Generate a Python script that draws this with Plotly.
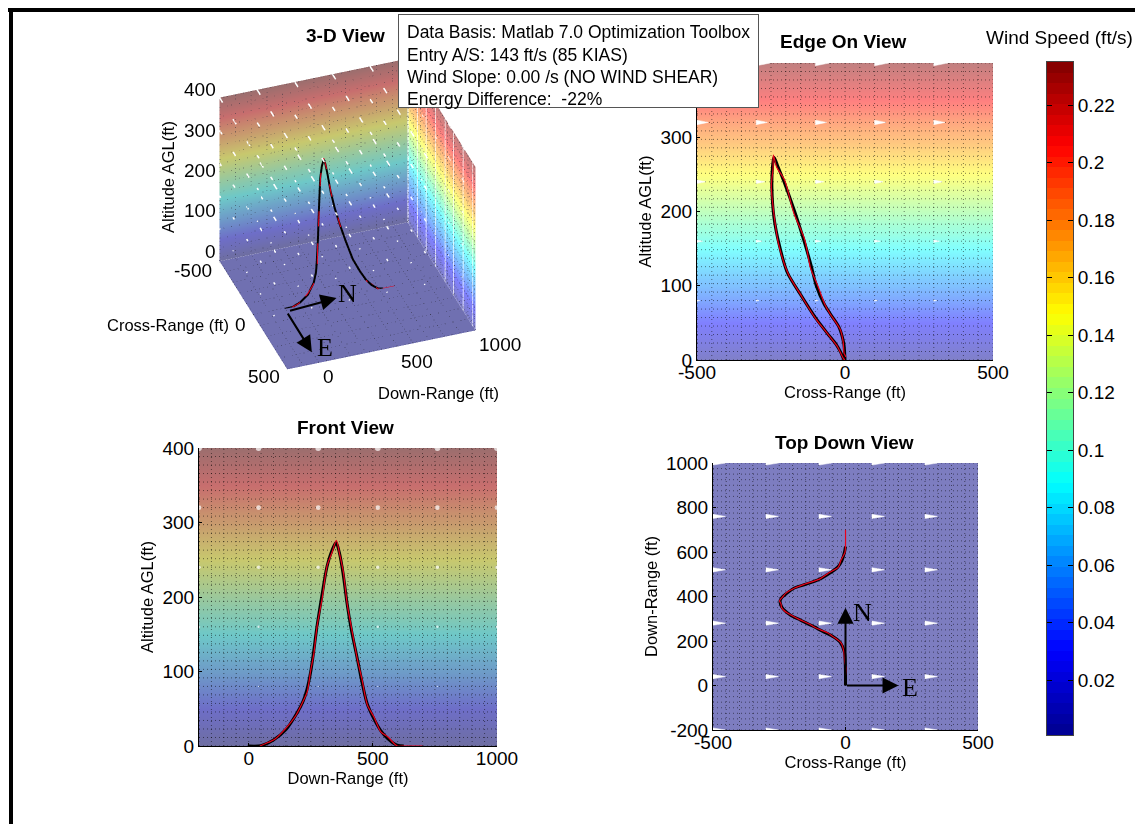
import numpy as np
import plotly.graph_objects as go

W, H = 1135, 824

# ---- data ----
wind_altitudes = [0, 10, 20, 30, 40, 50, 60, 70, 80, 90, 100, 110, 120, 130, 140, 150, 160, 170, 180, 190, 200,
                  210, 220, 230, 240, 250, 260, 270, 280, 290, 300, 310, 320, 330, 340, 350, 360, 370, 380, 390, 400]
wind_speeds = [0.001, 0.007, 0.013, 0.019, 0.024, 0.030, 0.036, 0.042, 0.048, 0.054, 0.060, 0.065, 0.071, 0.077,
               0.083, 0.089, 0.095, 0.101, 0.106, 0.112, 0.118, 0.124, 0.130, 0.136, 0.142, 0.147, 0.153, 0.159,
               0.165, 0.171, 0.177, 0.182, 0.188, 0.194, 0.200, 0.206, 0.212, 0.218, 0.223, 0.229, 0.235]

black_down = [0, 50, 100, 150, 194, 219, 234, 250, 261, 275, 294, 315, 335, 352, 365, 380, 396, 414, 437, 455, 477, 505, 531, 560, 598, 625]
black_cross = [0, 0, -1, -4, -20, -46, -70, -97, -113, -138, -170, -206, -228, -240, -245, -247, -240, -222, -195, -150, -100, -60, -30, -14, -4, 0]
black_alt = [0, 0.5, 8, 22, 44, 60, 75, 100, 125, 160, 200, 240, 262, 273, 260, 232, 192, 155, 118, 88, 57, 36, 21, 10, 1, 0]

red_down = [45, 80, 105, 150, 190, 222, 236, 250, 262, 276, 296, 316, 336, 353, 366, 381, 397, 415, 438, 456, 478, 506, 532, 561, 598, 630, 700]
red_cross = [0, 2, -3, -6, -16, -50, -66, -94, -116, -136, -173, -204, -231, -242, -243, -249, -238, -225, -192, -153, -98, -64, -27, -18, -2, 0, 0]
red_alt = [0, 5, 9, 24, 41, 62, 73, 102, 123, 162, 198, 242, 260, 276, 258, 234, 190, 157, 116, 90, 55, 38, 19, 12, 0, 0, 0]

lattice_down = [-200, 40, 280, 520, 760, 1000]
lattice_cross = [-500, -300, -100, 100, 300]
lattice_alt = [80, 160, 240, 320, 400]

alt_ticks = [0, 100, 200, 300, 400]
cross_ticks = [-500, 0, 500]
down_ticks = [0, 500, 1000]
topdown_ticks = [-200, 0, 200, 400, 600, 800, 1000]
cbar_ticks = [0.02, 0.04, 0.06, 0.08, 0.1, 0.12, 0.14, 0.16, 0.18, 0.2, 0.22]
cbar_labels = ["0.02", "0.04", "0.06", "0.08", "0.1", "0.12", "0.14", "0.16", "0.18", "0.2", "0.22"]
info_lines = ["Data Basis: Matlab 7.0 Optimization Toolbox", "Entry A/S: 143 ft/s (85 KIAS)",
              "Wind Slope: 0.00 /s (NO WIND SHEAR)", "Energy Difference:  -22%"]

VMIN, VMAX = 0.00087, 0.235
SANS = "Liberation Sans"
SERIF = "Liberation Serif"
TICK = 19
LABEL = 16.5
JET = [(0, 0, 0, 143), (0.125, 0, 0, 255), (0.375, 0, 255, 255), (0.625, 255, 255, 0), (0.875, 255, 0, 0), (1, 128, 0, 0)]


def scale(alpha=1.0, bg=255):
    return [[s, f"rgb({alpha*r+(1-alpha)*bg:.0f},{alpha*g+(1-alpha)*bg:.0f},{alpha*b+(1-alpha)*bg:.0f})"] for s, r, g, b in JET]


def px(x, y):
    return x / W, 1 - y / H


def speed_at(alt):
    return np.interp(alt, wind_altitudes, wind_speeds)


def mesh_lines(xs, ys):
    lx, ly = [], []
    for y in ys:
        lx += [xs[0], xs[-1], None]
        ly += [y, y, None]
    for x in xs:
        lx += [x, x, None]
        ly += [ys[0], ys[-1], None]
    return lx, ly


def wedges(xs, ys, lengths, half_h):
    wx, wy = [], []
    for x, y, l in zip(xs, ys, lengths):
        wx += [x, x + l, x, x, None]
        wy += [y - half_h * l, y, y + half_h * l, y - half_h * l, None]
    return wx, wy


fig = go.Figure()


def axis_pair(n, box, xr, yr, xt, yt, xtitle, ytitle, xstand=2, ystand=4):
    l, t, r, b = box
    common = dict(showgrid=False, zeroline=False, showline=True, linecolor="black", linewidth=1, automargin=False,
                  ticks="inside", ticklen=3, tickcolor="black", tickfont=dict(family=SANS, size=TICK, color="black"),
                  layer="above traces")
    fig.update_layout({
        f"xaxis{n}": dict(common, domain=[l / W, r / W], range=xr, tickvals=xt, ticktext=[str(v) for v in xt], anchor=f"y{n}",
                          ticklabelstandoff=-5,
                          title=dict(text=xtitle, font=dict(family=SANS, size=LABEL, color="black"), standoff=xstand)),
        f"yaxis{n}": dict(common, domain=[1 - b / H, 1 - t / H], range=yr, tickvals=yt, ticktext=[str(v) for v in yt], anchor=f"x{n}",
                          title=dict(text=ytitle, font=dict(family=SANS, size=LABEL, color="black"), standoff=ystand)),
    })


def add_panel(n, xs, ys, z, cs, mx, my, wx=None, wy=None, dots=None, bx=None, by=None, rx=None, ry=None):
    ax = dict(xaxis=f"x{n}", yaxis=f"y{n}")
    fig.add_trace(go.Heatmap(x=xs, y=ys, z=z, zmin=VMIN, zmax=VMAX, colorscale=cs, showscale=False, zsmooth="best", hoverinfo="skip", **ax))
    lx, ly = mesh_lines(mx, my)
    fig.add_trace(go.Scatter(x=lx, y=ly, mode="lines", line=dict(color="rgba(0,0,0,0.5)", width=1, dash="1px,3px"), hoverinfo="skip", showlegend=False, **ax))
    if wx is not None:
        fig.add_trace(go.Scatter(x=wx, y=wy, mode="lines", fill="toself", fillcolor="white", line=dict(color="white", width=0.5), hoverinfo="skip", showlegend=False, **ax))
    if dots is not None:
        fig.add_trace(go.Scatter(x=dots[0], y=dots[1], mode="markers", marker=dict(color="white", size=dots[2], line=dict(width=0)), hoverinfo="skip", showlegend=False, **ax))
    fig.add_trace(go.Scatter(x=bx, y=by, mode="lines", line=dict(color="black", width=3, shape="spline", smoothing=0.8), hoverinfo="skip", showlegend=False, **ax))
    fig.add_trace(go.Scatter(x=rx, y=ry, mode="lines", line=dict(color="#e8001a", width=1.2, shape="spline", smoothing=0.8), hoverinfo="skip", showlegend=False, **ax))


mesh_alt = np.linspace(0, 400, 36)
mesh_cross = np.arange(-500, 501, 50)
mesh_down = np.arange(-200, 1001, 50)
mesh_plan = np.arange(-200, 1001, 25)
z_alt = np.array(wind_speeds)[:, None].repeat(2, axis=1)

# Edge On
axis_pair(1, (697, 63, 993, 360), [-500, 500], [0, 400], cross_ticks, alt_ticks, "Cross-Range (ft)", "Altitude AGL(ft)")
pts = [(c, a) for a in lattice_alt for c in lattice_cross]
wx, wy = wedges([p[0] for p in pts], [p[1] for p in pts], [200 * speed_at(p[1]) for p in pts], 0.08)
add_panel(1, [-500, 500], wind_altitudes, z_alt, scale(0.5, 255), mesh_cross, mesh_alt, wx, wy,
          bx=black_cross, by=black_alt, rx=red_cross, ry=red_alt)

# Front
axis_pair(2, (199, 448, 497, 746), [-200, 1000], [0, 400], down_ticks, alt_ticks, "Down-Range (ft)", "Altitude AGL(ft)")
pts = [(d, a) for a in lattice_alt for d in lattice_down]
add_panel(2, [-200, 1000], wind_altitudes, z_alt, scale(0.35, 170), mesh_down, mesh_alt,
          dots=([p[0] for p in pts], [p[1] for p in pts], [25 * float(speed_at(p[1])) for p in pts]),
          bx=black_down, by=black_alt, rx=red_down, ry=red_alt)

# Top Down
axis_pair(3, (713, 463, 978, 730), [-500, 500], [-200, 1000], cross_ticks, topdown_ticks, "Cross-Range (ft)", "Down-Range (ft)")
pts = [(c, d) for d in lattice_down for c in lattice_cross]
wx, wy = wedges([p[0] for p in pts], [p[1] for p in pts], [200 * wind_speeds[-1]] * len(pts), 0.2)
add_panel(3, [-500, 500], [-200, 1000], [[wind_speeds[0]] * 2] * 2, scale(0.47, 235), mesh_cross, mesh_plan, wx, wy,
          bx=black_cross, by=black_down, rx=red_cross, ry=red_down)

# Colour bar
levels = np.linspace(VMIN, VMAX, 65)
centres = (levels[:-1] + levels[1:]) / 2
fig.add_trace(go.Heatmap(x=[0, 1], y=centres, z=np.column_stack([centres, centres]), zmin=VMIN, zmax=VMAX,
                         colorscale=scale(), showscale=False, hoverinfo="skip", xaxis="x4", yaxis="y4"))
fig.update_layout(
    xaxis4=dict(domain=[1047 / W, 1073 / W], range=[-0.5, 1.5], showticklabels=False, ticks="", showgrid=False, zeroline=False,
                showline=True, mirror=True, linecolor="#444444", anchor="y4"),
    yaxis4=dict(domain=[1 - 735 / H, 1 - 62 / H], range=[VMIN, VMAX], side="right", tickvals=cbar_ticks, ticktext=cbar_labels,
                ticks="inside", ticklen=5, tickcolor="black", mirror="ticks", showgrid=False, zeroline=False, showline=True,
                linecolor="#444444", tickfont=dict(family=SANS, size=TICK, color="black"), anchor="x4", layer="above traces"),
)

# 3-D view
flat = dict(ambient=1, diffuse=0, specular=0, roughness=1, fresnel=0)
floor_x, floor_y = np.meshgrid([-200, 1000], [-500, 500])
fig.add_trace(go.Surface(x=floor_x, y=floor_y, z=np.zeros((2, 2)), surfacecolor=np.full((2, 2), wind_speeds[0]), cmin=VMIN, cmax=VMAX,
                         colorscale=scale(0.45, 204), showscale=False, hoverinfo="skip", lighting=flat))
bx_, bz_ = np.meshgrid([-200, 1000], wind_altitudes)
fig.add_trace(go.Surface(x=bx_, y=np.full(bx_.shape, -500), z=bz_, surfacecolor=np.array(wind_speeds)[:, None].repeat(2, 1), cmin=VMIN, cmax=VMAX,
                         colorscale=scale(0.35, 170), showscale=False, hoverinfo="skip", lighting=flat))
ry_, rz_ = np.meshgrid([-500, 500], wind_altitudes)
fig.add_trace(go.Surface(x=np.full(ry_.shape, 1000), y=ry_, z=rz_, surfacecolor=np.array(wind_speeds)[:, None].repeat(2, 1), cmin=VMIN, cmax=VMAX,
                         colorscale=scale(0.5, 255), showscale=False, hoverinfo="skip", lighting=flat))


def line3(x, y, z, color, width):
    fig.add_trace(go.Scatter3d(x=x, y=y, z=z, mode="lines", line=dict(color=color, width=width), hoverinfo="skip", showlegend=False))


# dotted mesh on the three faces, lifted just off each face
fine_down = np.arange(-200, 1001, 25)
fine_cross = np.arange(-500, 501, 25)
fine_alt = np.arange(0, 401, 10)
rows_3d = mesh_alt[1::2]
cols_down = np.arange(-200, 1001, 100)
cols_cross = np.arange(-500, 501, 100)
dx, dy, dz = [], [], []
for a in rows_3d:
    dx += list(fine_down) + [995] * len(fine_cross)
    dy += [-495] * len(fine_down) + list(fine_cross)
    dz += [a] * (len(fine_down) + len(fine_cross))
for d in cols_down:
    dx += [d] * (len(fine_alt) + len(fine_cross))
    dy += [-495] * len(fine_alt) + list(fine_cross)
    dz += list(fine_alt) + [2] * len(fine_cross)
for c in cols_cross:
    dx += [995] * len(fine_alt) + list(fine_down)
    dy += [c] * (len(fine_alt) + len(fine_down))
    dz += list(fine_alt) + [2] * len(fine_down)
fig.add_trace(go.Scatter3d(x=dx, y=dy, z=dz, mode="markers", marker=dict(color="#2a2a3a", size=0.6, opacity=0.5, line=dict(width=0)), hoverinfo="skip", showlegend=False))

# wind ticks
tx, ty, tz = [], [], []
for a in lattice_alt:
    for d in lattice_down:
        for c in lattice_cross:
            tx += [d, d, None]; ty += [c, c + 200 * float(speed_at(a)), None]; tz += [a, a, None]
line3(tx, ty, tz, "white", 3)
line3(black_down, black_cross, black_alt, "black", 4)
line3(red_down, red_cross, red_alt, "#e8001a", 2)

alpha, phi = np.radians(19.8), np.radians(35.1)
R = 1.72
eye = dict(x=-R * np.sin(alpha) * np.cos(phi), y=-R * np.cos(alpha) * np.cos(phi), z=R * np.sin(phi))
hidden = dict(showbackground=False, showgrid=False, zeroline=False, showticklabels=False, showline=False, ticks="", title=dict(text=""), showspikes=False)
fig.update_layout(scene=dict(
    domain=dict(x=[190 / W, 505 / W], y=[1 - 385 / H, 1 - 43 / H]),
    xaxis=dict(hidden, range=[-200, 1000]),
    yaxis=dict(hidden, range=[500, -500]),
    zaxis=dict(hidden, range=[0, 400]),
    aspectmode="manual", aspectratio=dict(x=1.17, y=1.17, z=1.17),
    camera=dict(eye=eye, center=dict(x=0, y=0, z=0), up=dict(x=0, y=0, z=1), projection=dict(type="orthographic")),
    annotations=[
        dict(x=330, y=0, z=0, ax=-48, ay=13, text="", showarrow=True, arrowhead=2, arrowsize=1.6, arrowwidth=2, arrowcolor="black"),
        dict(x=0, y=400, z=0, ax=-25, ay=-40, text="", showarrow=True, arrowhead=2, arrowsize=1.6, arrowwidth=2, arrowcolor="black"),
    ],
))

# ---- text and frame ----
ann = []


def text(x, y, s, size=LABEL, bold=False, family=SANS, angle=0, anchor="center"):
    fx, fy = px(x, y)
    ann.append(dict(x=fx, y=fy, xref="paper", yref="paper", text=f"<b>{s}</b>" if bold else s, showarrow=False, xanchor=anchor, yanchor="middle",
                    textangle=angle, font=dict(family=family, size=size, color="black")))


text(345, 35, "3-D View", 19, True)
text(843, 41, "Edge On View", 19, True)
text(345, 427, "Front View", 19, True)
text(844, 442, "Top Down View", 19, True)
text(1059, 38, "Wind Speed (ft/s)", 19)
for s, x, y in [("400", 200, 89), ("300", 200, 130), ("200", 200, 171), ("100", 200, 211), ("0", 210, 252),
                ("-500", 193, 270), ("0", 240, 324), ("500", 264, 377),
                ("0", 328, 377), ("500", 417, 361), ("1000", 500, 344)]:
    text(x, y, s, TICK)
text(168, 177, "Altitude AGL(ft)", LABEL, angle=-90)
text(168, 325, "Cross-Range (ft)", LABEL)
text(438, 393, "Down-Range (ft)", LABEL)
text(347, 293, "N", 26, family=SERIF)
text(325, 347, "E", 26, family=SERIF)
text(862, 612, "N", 26, family=SERIF)
text(910, 687, "E", 26, family=SERIF)

fx, fy = px(398, 14)
ann.append(dict(x=fx, y=fy, xref="paper", yref="paper", xanchor="left", yanchor="top", showarrow=False, text=" ",
                width=355, height=88, bgcolor="white", bordercolor="#555555", borderwidth=1, borderpad=2,
                font=dict(family=SANS, size=12, color="white")))
for line, y in zip(info_lines, [32, 55, 77, 99]):
    text(405, y, line, 17.5, anchor="left")
for tip_x, tip_y in [(0, 350), (200, 0)]:
    ann.append(dict(x=tip_x, y=tip_y, xref="x3", yref="y3", ax=0, ay=0, axref="x3", ayref="y3", text="", showarrow=True,
                    arrowhead=2, arrowsize=1.6, arrowwidth=2, arrowcolor="black"))

fig.update_layout(
    width=W, height=H, autosize=False, margin=dict(l=0, r=0, t=0, b=0), paper_bgcolor="white", plot_bgcolor="white",
    showlegend=False, annotations=ann,
    shapes=[
        dict(type="rect", xref="paper", yref="paper", x0=8 / W, x1=1, y0=1 - 12 / H, y1=1 - 8 / H, fillcolor="black", line=dict(width=0)),
        dict(type="rect", xref="paper", yref="paper", x0=9 / W, x1=13 / W, y0=0, y1=1 - 8 / H, fillcolor="black", line=dict(width=0)),
    ],
)
fig.write_html("out.html", config=dict(displayModeBar=False), post_script="document.body.style.margin='0';document.body.style.overflow='hidden';")
